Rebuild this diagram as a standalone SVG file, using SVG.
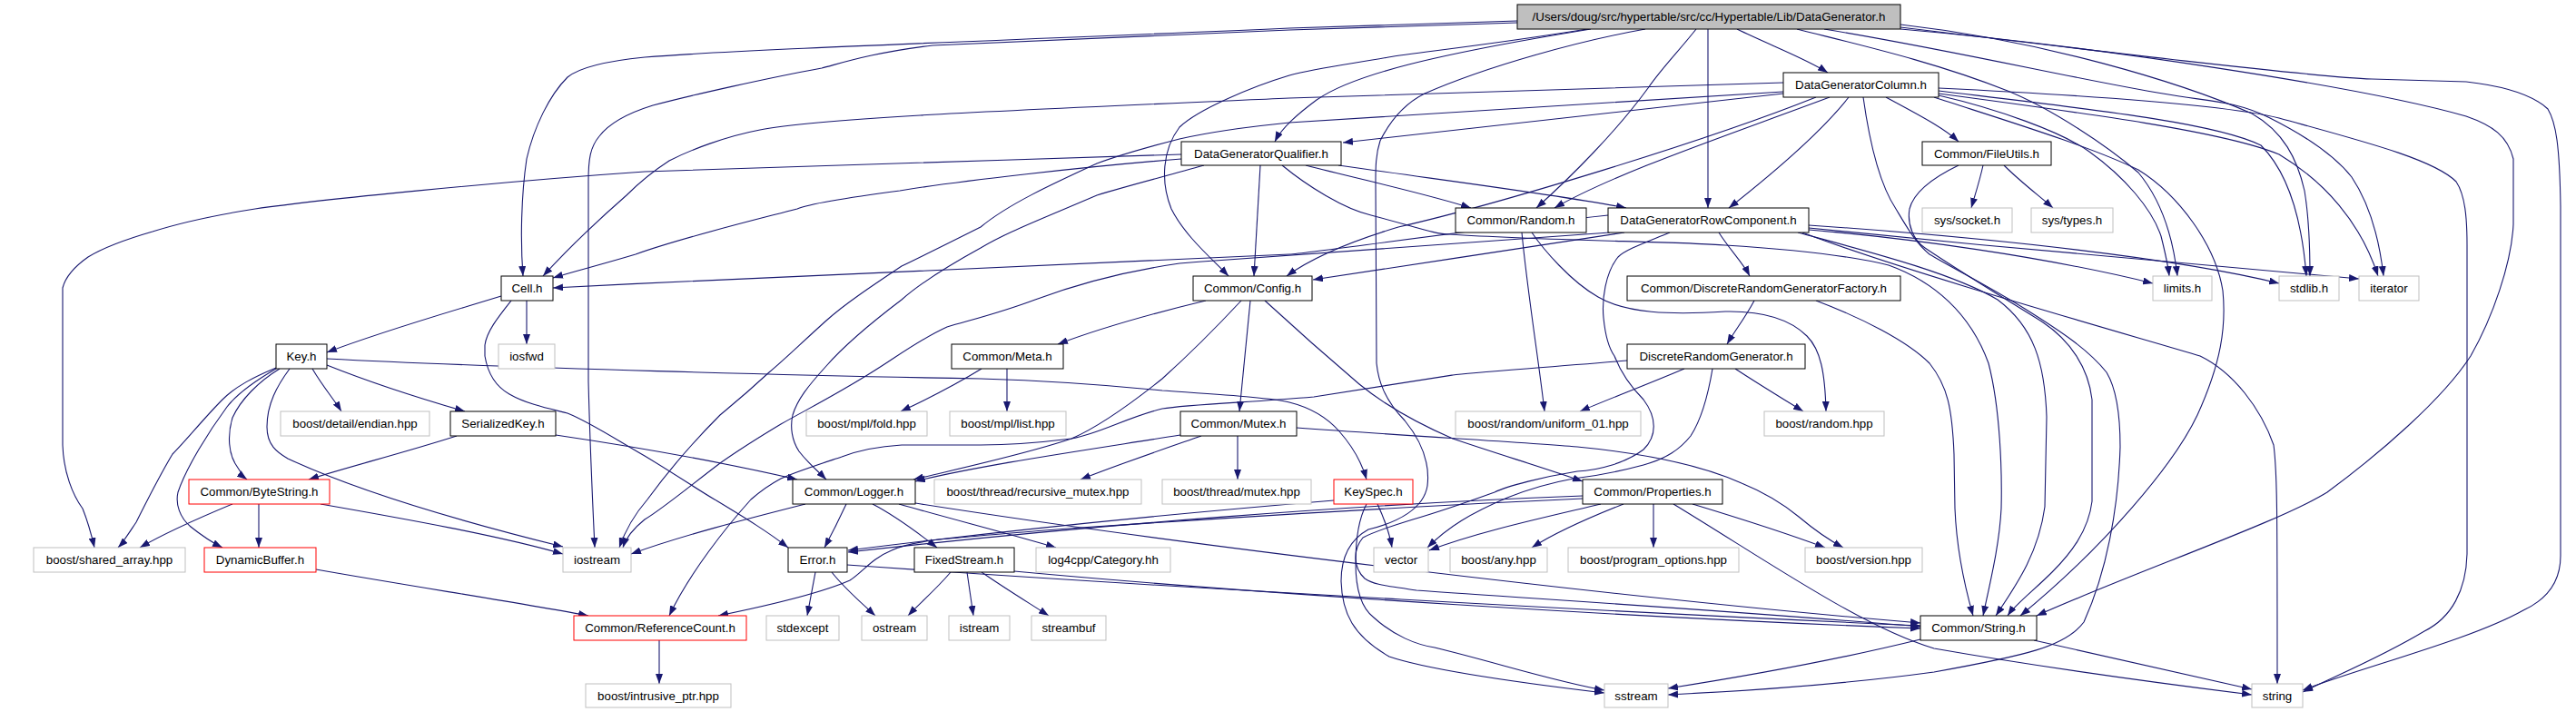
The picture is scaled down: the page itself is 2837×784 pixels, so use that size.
<svg xmlns="http://www.w3.org/2000/svg" width="2837" height="784" viewBox="0 0 2837 784">
<defs>
<marker id="a" markerWidth="11" markerHeight="8" refX="11" refY="4" orient="auto" markerUnits="userSpaceOnUse"><path d="M0,0 L11,4 L0,8 z" fill="#191970"/></marker>
<style>
.e path{fill:none;stroke:#191970;stroke-width:1.1;marker-end:url(#a)}
.n rect{fill:#fff;stroke:#000;stroke-width:1}
.n.g rect{stroke:#bfbfbf}
.n.r rect{stroke:#ff0000}
.n.root rect{fill:#bfbfbf;stroke:#000}
.n text{font-family:"Liberation Sans",Arial,sans-serif;font-size:13.3px;fill:#000;text-anchor:middle}
</style>
</defs>
<rect width="2837" height="784" fill="#fff"/>
<g class="e" id="edges">
<!-- root -->
<path d="M1671,23 L1420,31 C1100,45 820,54 710,63 C660,68 636,76 625,85 C605,105 588,140 580,175 C574,215 573,265 576,304"/>
<path d="M1671,25 L1420,33 C1200,42 1060,48 1027,50 C960,58 925,70 905,75 C850,85 760,105 719,116 C690,125 670,137 660,150 C650,162 648,175 648,200 L648,420 C650,500 653,560 655,603"/>
<path d="M1748,32 C1650,48 1560,58 1529,63 C1490,70 1450,75 1420,83 C1380,95 1320,120 1299,140 C1280,165 1278,200 1290,230 C1305,260 1335,285 1353,304"/>
<path d="M1752,32 C1580,60 1490,82 1450,110 C1430,125 1412,140 1404,156"/>
<path d="M1913,32 C1950,50 1990,65 2013,80"/>
<path d="M1881,32 L1881,229"/>
<path d="M1868,32 C1850,55 1830,75 1815,97 C1780,145 1730,195 1692,229"/>
<path d="M1812,32 C1740,45 1640,72 1569,103 C1545,115 1530,135 1520,155 C1515,170 1515,185 1515,200 L1516,400 C1518,420 1525,440 1547,463 C1565,485 1575,510 1572,535 C1568,560 1540,575 1507,583 C1485,595 1477,615 1477,640 C1478,675 1490,700 1530,723 C1580,740 1700,755 1767,763"/>
<path d="M1979,32 C2050,50 2130,68 2211,100 C2260,120 2320,160 2355,190 C2380,220 2393,260 2398,304"/>
<path d="M2093,27 C2250,45 2400,90 2480,125 C2515,145 2530,175 2538,210 C2543,240 2544,275 2544,304"/>
<path d="M2009,32 C2150,55 2300,90 2382,103 C2430,112 2460,110 2500,130 C2540,150 2570,170 2590,195 C2610,225 2620,260 2625,304"/>
<path d="M2093,32 C2300,50 2600,95 2716,128 C2745,138 2762,150 2768,175 L2768,247 C2766,290 2745,350 2721,392 C2690,440 2620,500 2563,542 C2510,575 2350,630 2243,678"/>
<path d="M2093,30 C2300,55 2550,85 2612,87 L2716,90 C2760,95 2790,105 2806,120 C2815,135 2819,160 2820,227 L2820,612 C2820,640 2805,660 2779,672 C2720,705 2600,735 2536,760"/>
<!-- DataGeneratorColumn -->
<path d="M1964,91 L1420,108 C1100,122 900,130 837,143 C800,150 760,165 737,177 C720,188 705,200 690,215 C650,250 620,280 598,304"/>
<path d="M1964,103 L1479,157"/>
<path d="M1964,101 L1420,135 C1370,140 1330,146 1299,153 C1260,163 1235,170 1208,180 C1160,202 1110,225 1080,250 C1040,270 1010,285 993,293 C960,315 930,335 910,353 C880,380 865,395 847,410 C820,435 805,447 793,457 C760,490 735,520 713,550 C700,565 690,580 682,603"/>
<path d="M2015,107 C1900,150 1780,190 1712,229"/>
<path d="M2000,107 C1880,155 1650,225 1540,250 C1500,262 1450,280 1417,304"/>
<path d="M2036,107 C2010,140 1960,185 1904,229"/>
<path d="M2077,107 C2110,125 2140,140 2157,156"/>
<path d="M2052,107 C2058,150 2068,200 2088,230 C2100,250 2110,268 2125,280 C2150,295 2190,315 2230,340 C2270,365 2300,385 2320,410 C2332,430 2335,460 2335,492 C2333,560 2320,630 2295,685 C2275,712 2230,722 2130,740 C2020,755 1900,762 1837,765"/>
<path d="M2130,107 C2200,130 2300,160 2355,187 C2400,215 2440,270 2448,320 C2452,360 2446,400 2420,457 C2395,510 2320,600 2225,678"/>
<path d="M2135,105 C2200,120 2270,145 2301,167 C2340,195 2370,230 2380,260 C2385,280 2388,295 2389,304"/>
<path d="M2135,100 C2300,120 2440,135 2490,160 C2520,190 2535,240 2540,304"/>
<path d="M2135,103 C2300,125 2450,145 2510,170 C2560,200 2600,245 2619,304"/>
<path d="M2135,97 C2300,105 2450,115 2510,130 C2600,155 2680,175 2705,200 C2715,215 2717,240 2717,270 L2717,610 C2716,650 2700,680 2670,695 C2620,725 2570,745 2536,762"/>
<!-- Qualifier -->
<path d="M1301,175 C1200,183 1050,200 991,210 C930,218 890,225 878,230 C820,245 750,262 700,280 C660,292 635,298 609,306"/>
<path d="M1301,170 C1100,177 850,183 710,189 C550,200 350,220 281,230 C230,238 190,248 168,255 C130,266 110,275 97,283 C80,295 72,305 69,317 L69,490 C70,520 80,545 91,560 C97,575 101,590 104,603"/>
<path d="M1388,182 L1381,304"/>
<path d="M1326,182 C1280,195 1240,205 1208,215 C1150,240 1110,255 1080,273 C1040,295 1010,315 993,330 C960,355 930,380 910,403 C890,425 878,440 873,457 C870,470 872,485 880,497 C890,510 900,518 910,528"/>
<path d="M1438,182 C1500,198 1570,213 1620,229"/>
<path d="M1474,182 C1600,200 1720,215 1791,229"/>
<path d="M1412,182 C1440,205 1480,230 1510,237 C1560,250 1580,258 1597,258 C1700,265 1850,266 1900,270 C1980,275 2040,282 2080,292 C2130,310 2170,345 2190,400 C2203,450 2205,520 2204,560 C2202,600 2192,640 2184,678"/>
<!-- RowComponent -->
<path d="M1771,237 C1600,255 1450,278 1420,280 C1200,290 900,302 609,317"/>
<path d="M1789,256 C1700,270 1550,292 1446,308"/>
<path d="M1773,256 C1600,268 1450,278 1299,290 C1230,300 1180,315 1140,330 C1100,345 1070,352 1043,360 C1010,375 985,395 960,410 C920,435 890,450 860,467 C830,485 810,498 793,510 C760,535 730,560 710,572 C700,580 690,590 686,603"/>
<path d="M1893,256 C1905,275 1920,290 1927,304"/>
<path d="M1992,253 C2100,262 2250,282 2371,312"/>
<path d="M1992,248 C2200,262 2400,285 2510,312"/>
<path d="M1992,251 C2200,272 2450,295 2598,307"/>
<path d="M1980,256 C2050,275 2150,300 2200,330 C2240,360 2252,400 2254,459 L2252,558 C2245,610 2220,645 2198,678"/>
<path d="M1985,256 C2100,300 2350,370 2423,392 C2460,410 2490,450 2504,490 C2508,520 2508,560 2508,753"/>
<path d="M1839,256 C1810,268 1790,275 1782,283 C1768,300 1764,330 1766,350 C1768,370 1773,385 1778,392 C1785,410 1795,425 1810,440 C1825,460 1825,480 1810,495 C1790,510 1760,518 1737,519 C1700,525 1660,535 1646,542 C1610,555 1580,565 1556,572 C1530,580 1510,587 1501,592 C1490,605 1490,625 1503,637 C1515,645 1530,645 1560,650 C1700,660 1900,672 2115,690"/>
<!-- Random -->
<path d="M1676,256 C1682,320 1695,400 1701,453"/>
<path d="M1687,256 C1700,275 1730,310 1760,327 C1790,345 1840,347 1900,343 C1950,342 1975,355 1990,370 C2005,385 2010,410 2011,453"/>
<!-- FileUtils -->
<path d="M2184,182 C2180,200 2175,215 2171,229"/>
<path d="M2207,182 C2225,200 2245,215 2261,229"/>
<path d="M2157,182 C2130,195 2108,210 2103,230 C2100,248 2108,265 2120,273 C2160,300 2210,330 2250,355 C2280,375 2300,405 2304,440 L2304,552 C2300,585 2280,610 2260,630 C2240,650 2220,665 2211,678"/>
<!-- Cell -->
<path d="M552,326 C490,345 420,365 360,388"/>
<path d="M580,331 L580,379"/>
<path d="M563,331 C548,350 536,365 534,380 L534,392 C537,410 545,425 561,434 C580,445 605,450 625,455 C650,465 680,485 710,502 C740,520 770,540 787,550 C820,570 845,585 868,603"/>
<!-- Config -->
<path d="M1328,331 C1270,345 1210,362 1165,379"/>
<path d="M1367,331 C1340,360 1310,390 1280,417 C1245,445 1210,470 1180,483 C1130,500 1060,515 1006,528"/>
<path d="M1377,331 L1365,453"/>
<path d="M1393,331 C1430,365 1470,400 1497,423 C1530,450 1570,470 1600,483 C1650,500 1700,515 1743,530"/>
<!-- Meta -->
<path d="M1081,406 C1050,425 1020,440 992,453"/>
<path d="M1109,406 L1109,453"/>
<!-- Mutex -->
<path d="M1300,479 C1200,495 1080,512 1008,530"/>
<path d="M1323,480 C1280,495 1230,512 1190,528"/>
<path d="M1363,480 L1363,528"/>
<path d="M1428,471 C1550,480 1680,487 1737,492 C1820,500 1880,515 1918,532 C1950,545 1970,560 1981,569 C2000,585 2015,595 2030,603"/>
<!-- Key -->
<path d="M360,395 C550,405 900,414 1080,417 C1180,420 1250,427 1280,430 C1350,435 1400,438 1420,443 C1440,448 1460,458 1475,475 C1490,492 1500,510 1505,528"/>
<path d="M344,406 C355,425 368,440 376,453"/>
<path d="M360,402 C400,418 460,438 512,453"/>
<path d="M319,406 C305,425 294,445 294,470 C294,490 305,498 317,505 C360,525 450,560 620,602"/>
<path d="M308,406 C285,420 265,440 256,460 C250,480 252,500 260,512 C265,520 268,525 272,528"/>
<path d="M304,406 C280,420 260,435 250,448 C230,475 205,515 196,542 C193,555 198,570 210,580 C225,592 235,598 245,603"/>
<path d="M304,405 C280,415 260,425 245,440 C225,460 205,485 190,500 C175,525 160,555 150,575 C140,590 135,598 130,603"/>
<!-- SerializedKey -->
<path d="M503,480 C440,500 380,515 340,528"/>
<path d="M612,479 C700,492 800,510 878,528"/>
<!-- ByteString -->
<path d="M256,555 C220,570 185,585 154,603"/>
<path d="M285,555 L285,603"/>
<path d="M353,555 C450,572 550,590 620,610"/>
<!-- DynamicBuffer -->
<path d="M348,627 C450,645 580,665 648,678"/>
<!-- Logger -->
<path d="M887,555 C820,572 750,590 695,610"/>
<path d="M932,555 C925,570 915,590 908,603"/>
<path d="M961,555 C990,570 1015,590 1032,603"/>
<path d="M990,555 C1050,572 1120,590 1163,603"/>
<path d="M1008,554 C1300,600 1800,660 2115,686"/>
<!-- Error -->
<path d="M898,630 L889,678"/>
<path d="M916,630 C930,648 950,665 964,678"/>
<path d="M933,622 C1300,648 1800,675 2115,689"/>
<!-- FixedStream -->
<path d="M1047,630 C1030,650 1012,665 1000,678"/>
<path d="M1065,630 L1072,678"/>
<path d="M1081,630 C1110,650 1135,665 1155,678"/>
<path d="M1117,629 C1400,655 1800,680 2115,692"/>
<!-- RefCount -->
<path d="M726,705 L726,753"/>
<!-- KeySpec -->
<path d="M1469,551 C1300,565 1100,585 934,606"/>
<path d="M1517,555 C1524,570 1530,585 1533,603"/>
<path d="M1505,555 C1497,570 1493,590 1493,620 C1493,650 1500,670 1513,680 C1535,700 1560,710 1580,713 C1650,730 1710,750 1767,760"/>
<!-- Properties -->
<path d="M1743,546 C1500,555 1200,578 934,608"/>
<path d="M1743,549 C1500,560 1280,575 1176,582 C1100,588 1050,592 1027,595 C1005,598 990,602 982,606 C960,615 950,630 936,639 C900,655 840,668 791,678"/>
<path d="M1763,555 C1700,570 1630,585 1574,606"/>
<path d="M1788,555 C1750,570 1715,585 1687,603"/>
<path d="M1821,555 L1821,603"/>
<path d="M1864,555 C1920,572 1970,588 2010,603"/>
<path d="M1843,555 C1950,620 2050,690 2130,714 C2250,735 2400,755 2480,765"/>
<!-- String -->
<path d="M2240,705 C2330,725 2420,745 2480,759"/>
<path d="M2115,704 C2030,725 1920,745 1837,758"/>
<!-- DRGF -->
<path d="M1932,331 C1922,350 1910,365 1902,379"/>
<path d="M2000,331 C2050,350 2100,375 2125,400 C2145,425 2150,450 2152,500 L2153,560 C2155,610 2165,650 2173,678"/>
<!-- DRG -->
<path d="M1855,406 C1810,425 1770,440 1740,453"/>
<path d="M1911,406 C1940,425 1965,440 1986,453"/>
<path d="M1886,406 C1882,430 1875,460 1862,480 C1850,495 1835,505 1810,512 C1780,520 1750,525 1733,527 C1700,533 1680,540 1660,548 C1620,565 1595,580 1572,603"/>
<path d="M1792,397 C1700,405 1620,410 1600,413 C1540,422 1480,432 1447,437 C1380,443 1310,445 1280,450 C1240,460 1210,478 1180,483 C1140,488 1100,490 1080,490 C1040,490 1010,490 993,490 C960,492 940,498 927,503 C900,512 875,520 860,527 C845,535 835,543 827,550 C800,580 760,630 737,678"/>
</g>
<g class="n root" id="n-root"><rect x="1671" y="5" width="422" height="27"/><text x="1882" y="23">/Users/doug/src/hypertable/src/cc/Hypertable/Lib/DataGenerator.h</text></g>
<g class="n" id="n-dgcol"><rect x="1964" y="80" width="171" height="27"/><text x="2049.5" y="98">DataGeneratorColumn.h</text></g>
<g class="n" id="n-qual"><rect x="1301" y="156" width="176" height="26"/><text x="1389" y="173.5">DataGeneratorQualifier.h</text></g>
<g class="n" id="n-fileutils"><rect x="2117" y="156" width="142" height="26"/><text x="2188" y="173.5">Common/FileUtils.h</text></g>
<g class="n" id="n-random"><rect x="1603" y="229" width="144" height="27"/><text x="1675" y="247">Common/Random.h</text></g>
<g class="n" id="n-rowcomp"><rect x="1771" y="229" width="221" height="27"/><text x="1881.5" y="247">DataGeneratorRowComponent.h</text></g>
<g class="n g" id="n-socket"><rect x="2117" y="229" width="99" height="27"/><text x="2166.5" y="247">sys/socket.h</text></g>
<g class="n g" id="n-types"><rect x="2237" y="229" width="90" height="27"/><text x="2282" y="247">sys/types.h</text></g>
<g class="n" id="n-cell"><rect x="552" y="304" width="57" height="27"/><text x="580.5" y="322">Cell.h</text></g>
<g class="n" id="n-config"><rect x="1314" y="304" width="131" height="27"/><text x="1379.5" y="322">Common/Config.h</text></g>
<g class="n" id="n-drgf"><rect x="1792" y="304" width="301" height="27"/><text x="1942.5" y="322">Common/DiscreteRandomGeneratorFactory.h</text></g>
<g class="n g" id="n-limits"><rect x="2371" y="304" width="65" height="27"/><text x="2403.5" y="322">limits.h</text></g>
<g class="n g" id="n-stdlib"><rect x="2510" y="304" width="66" height="27"/><text x="2543" y="322">stdlib.h</text></g>
<g class="n g" id="n-iterator"><rect x="2598" y="304" width="66" height="27"/><text x="2631" y="322">iterator</text></g>
<g class="n" id="n-key"><rect x="304" y="379" width="56" height="27"/><text x="332" y="397">Key.h</text></g>
<g class="n g" id="n-iosfwd"><rect x="549" y="379" width="62" height="27"/><text x="580" y="397">iosfwd</text></g>
<g class="n" id="n-meta"><rect x="1048" y="379" width="123" height="27"/><text x="1109.5" y="397">Common/Meta.h</text></g>
<g class="n" id="n-drg"><rect x="1792" y="379" width="196" height="27"/><text x="1890" y="397">DiscreteRandomGenerator.h</text></g>
<g class="n g" id="n-endian"><rect x="309" y="453" width="164" height="27"/><text x="391" y="471">boost/detail/endian.hpp</text></g>
<g class="n" id="n-serkey"><rect x="496" y="453" width="116" height="27"/><text x="554" y="471">SerializedKey.h</text></g>
<g class="n g" id="n-fold"><rect x="888" y="453" width="133" height="27"/><text x="954.5" y="471">boost/mpl/fold.hpp</text></g>
<g class="n g" id="n-list"><rect x="1046" y="453" width="128" height="27"/><text x="1110" y="471">boost/mpl/list.hpp</text></g>
<g class="n" id="n-mutex"><rect x="1300" y="453" width="128" height="27"/><text x="1364" y="471">Common/Mutex.h</text></g>
<g class="n g" id="n-uniform"><rect x="1603" y="453" width="204" height="27"/><text x="1705" y="471">boost/random/uniform_01.hpp</text></g>
<g class="n g" id="n-randomhpp"><rect x="1943" y="453" width="132" height="27"/><text x="2009" y="471">boost/random.hpp</text></g>
<g class="n r" id="n-bytestring"><rect x="208" y="528" width="155" height="27"/><text x="285.5" y="546">Common/ByteString.h</text></g>
<g class="n" id="n-logger"><rect x="873" y="528" width="135" height="27"/><text x="940.5" y="546">Common/Logger.h</text></g>
<g class="n g" id="n-recmutex"><rect x="1029" y="528" width="228" height="27"/><text x="1143" y="546">boost/thread/recursive_mutex.hpp</text></g>
<g class="n g" id="n-thmutex"><rect x="1280" y="528" width="164" height="27"/><text x="1362" y="546">boost/thread/mutex.hpp</text></g>
<g class="n r" id="n-keyspec"><rect x="1469" y="528" width="87" height="27"/><text x="1512.5" y="546">KeySpec.h</text></g>
<g class="n" id="n-props"><rect x="1743" y="528" width="154" height="27"/><text x="1820" y="546">Common/Properties.h</text></g>
<g class="n g" id="n-sharedarr"><rect x="37" y="603" width="167" height="27"/><text x="120.5" y="621">boost/shared_array.hpp</text></g>
<g class="n r" id="n-dynbuf"><rect x="225" y="603" width="123" height="27"/><text x="286.5" y="621">DynamicBuffer.h</text></g>
<g class="n g" id="n-iostream"><rect x="620" y="603" width="75" height="27"/><text x="657.5" y="621">iostream</text></g>
<g class="n" id="n-error"><rect x="868" y="603" width="65" height="27"/><text x="900.5" y="621">Error.h</text></g>
<g class="n" id="n-fixedstream"><rect x="1007" y="603" width="110" height="27"/><text x="1062" y="621">FixedStream.h</text></g>
<g class="n g" id="n-category"><rect x="1141" y="603" width="148" height="27"/><text x="1215" y="621">log4cpp/Category.hh</text></g>
<g class="n g" id="n-vector"><rect x="1513" y="603" width="60" height="27"/><text x="1543" y="621">vector</text></g>
<g class="n g" id="n-any"><rect x="1597" y="603" width="107" height="27"/><text x="1650.5" y="621">boost/any.hpp</text></g>
<g class="n g" id="n-progopt"><rect x="1727" y="603" width="188" height="27"/><text x="1821" y="621">boost/program_options.hpp</text></g>
<g class="n g" id="n-version"><rect x="1988" y="603" width="129" height="27"/><text x="2052.5" y="621">boost/version.hpp</text></g>
<g class="n r" id="n-refcount"><rect x="632" y="678" width="190" height="27"/><text x="727" y="696">Common/ReferenceCount.h</text></g>
<g class="n g" id="n-stdexcept"><rect x="844" y="678" width="80" height="27"/><text x="884" y="696">stdexcept</text></g>
<g class="n g" id="n-ostream"><rect x="949" y="678" width="72" height="27"/><text x="985" y="696">ostream</text></g>
<g class="n g" id="n-istream"><rect x="1045" y="678" width="67" height="27"/><text x="1078.5" y="696">istream</text></g>
<g class="n g" id="n-streambuf"><rect x="1136" y="678" width="82" height="27"/><text x="1177" y="696">streambuf</text></g>
<g class="n" id="n-stringh"><rect x="2115" y="678" width="128" height="27"/><text x="2179" y="696">Common/String.h</text></g>
<g class="n g" id="n-intrusive"><rect x="645" y="753" width="160" height="26"/><text x="725" y="770.5">boost/intrusive_ptr.hpp</text></g>
<g class="n g" id="n-sstream"><rect x="1767" y="753" width="70" height="26"/><text x="1802" y="770.5">sstream</text></g>
<g class="n g" id="n-string"><rect x="2480" y="753" width="56" height="26"/><text x="2508" y="770.5">string</text></g>
</svg>
